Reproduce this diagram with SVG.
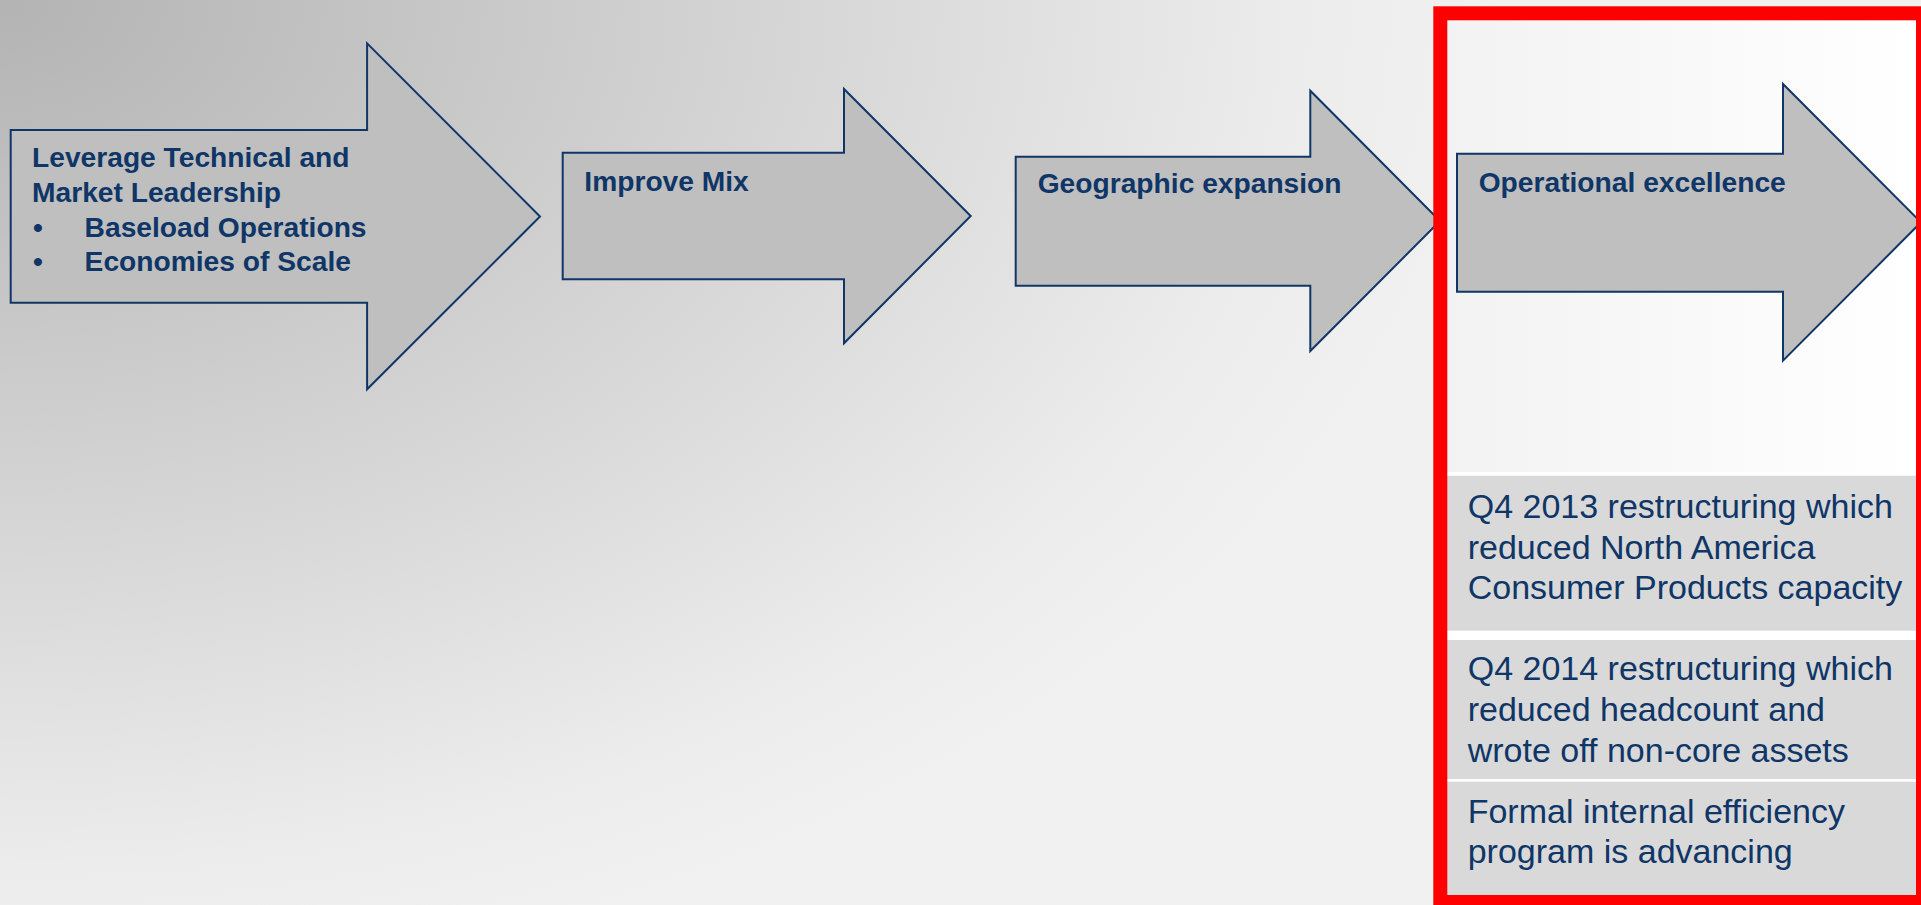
<svg xmlns="http://www.w3.org/2000/svg" width="1921" height="905" viewBox="0 0 1921 905">
  <defs>
    <radialGradient id="bg" gradientUnits="userSpaceOnUse" cx="0" cy="0" r="1500" gradientTransform="scale(1,0.67)">
      <stop offset="0" stop-color="#b3b3b3"/>
      <stop offset="0.8667" stop-color="#ececec"/>
      <stop offset="1" stop-color="#f1f1f1"/>
    </radialGradient>
    <linearGradient id="inner" x1="0" y1="0" x2="1" y2="0">
      <stop offset="0" stop-color="#f2f2f2"/>
      <stop offset="1" stop-color="#ffffff"/>
    </linearGradient>
    <style>
      .arrow { fill: #bfbfbf; stroke: #0f3667; stroke-width: 2; stroke-linejoin: miter; }
      .head { font-family: "Liberation Sans", Arial, sans-serif; font-weight: bold; font-size: 28.2px; fill: #0f3667; }
      .body { font-family: "Liberation Sans", Arial, sans-serif; font-size: 34px; fill: #0f3667; }
      .box { fill: #d9d9d9; }
    </style>
  </defs>

  <rect x="0" y="0" width="1921" height="905" fill="url(#bg)"/>
  <rect x="1447" y="20" width="474" height="452" fill="url(#inner)"/>
  <rect x="1447" y="472" width="474" height="430" fill="#ffffff"/>

  <g id="node-1">
    <polygon class="arrow" points="10.7,130 367.1,130 367.1,43.3 540,216.5 367.1,389.3 367.1,302.7 10.7,302.7"/>
    <text class="head" x="32" y="167.3">Leverage Technical and</text>
    <text class="head" x="32" y="202">Market Leadership</text>
    <text class="head" x="33" y="236.5">•</text>
    <text class="head" x="84.6" y="236.5">Baseload Operations</text>
    <text class="head" x="33" y="270.7">•</text>
    <text class="head" x="84.6" y="270.7">Economies of Scale</text>
  </g>

  <g id="node-2">
    <polygon class="arrow" points="562.7,152.7 844,152.7 844,89 970.7,216 844,343.3 844,279.3 562.7,279.3"/>
    <text class="head" x="584.3" y="190.7">Improve Mix</text>
  </g>

  <g id="node-3">
    <polygon class="arrow" points="1015.7,156.7 1310.3,156.7 1310.3,90.7 1440,221 1310.3,351 1310.3,285.7 1015.7,285.7"/>
    <text class="head" x="1037.7" y="193.3">Geographic expansion</text>
  </g>

  <g id="node-4">
    <polygon class="arrow" points="1457,153.7 1783,153.7 1783,84 1921,222.3 1783,360.7 1783,291.7 1457,291.7"/>
    <text class="head" x="1478.7" y="191.7">Operational excellence</text>
  </g>

  <g id="node-5">
    <rect class="box" x="1447" y="475.7" width="474" height="155"/>
    <text class="body" x="1467.7" y="518.3">Q4 2013 restructuring which</text>
    <text class="body" x="1467.7" y="559">reduced North America</text>
    <text class="body" x="1467.7" y="599.3">Consumer Products capacity</text>
  </g>

  <g id="node-6">
    <rect class="box" x="1447" y="640" width="474" height="139"/>
    <text class="body" x="1467.7" y="680">Q4 2014 restructuring which</text>
    <text class="body" x="1467.7" y="720.7">reduced headcount and</text>
    <text class="body" x="1467.7" y="761.5">wrote off non-core assets</text>
  </g>

  <g id="node-7">
    <rect class="box" x="1447" y="781.7" width="474" height="120"/>
    <text class="body" x="1467.7" y="823.3">Formal internal efficiency</text>
    <text class="body" x="1467.7" y="863.3">program is advancing</text>
  </g>

  <g id="highlight">
    <rect x="1440.3" y="13.3" width="482.7" height="888.7" fill="none" stroke="#ff0000" stroke-width="14"/>
  </g>

  <g id="connectors"></g>
</svg>
